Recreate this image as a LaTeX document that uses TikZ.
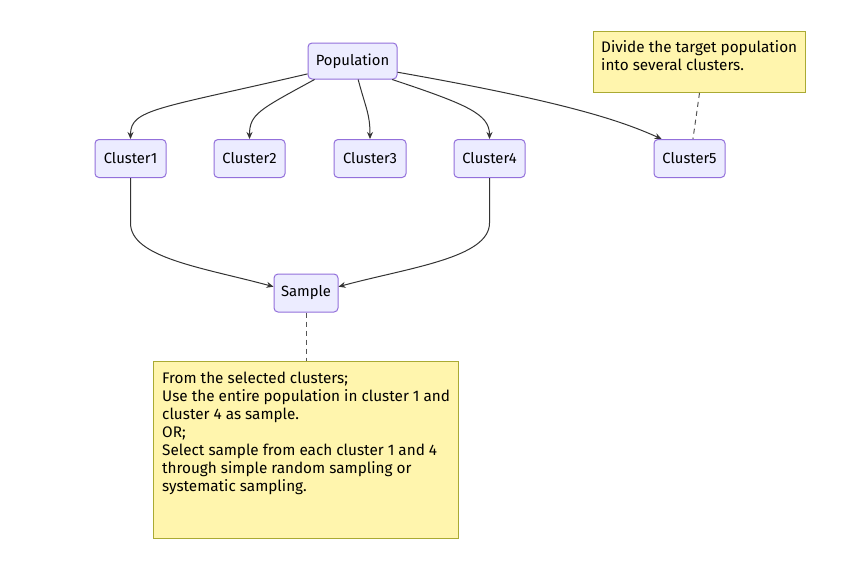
\documentclass[tikz,border=0pt]{standalone}
\usepackage{fontspec}
\setmainfont{Fira Sans}
\usetikzlibrary{arrows.meta}
\definecolor{nodefill}{HTML}{ECECFF}
\definecolor{nodeline}{HTML}{9370DB}
\definecolor{notefill}{HTML}{FFF5AD}
\definecolor{noteline}{HTML}{AAAA33}
\definecolor{edgecol}{HTML}{333333}
\definecolor{dashcol}{HTML}{555555}
\begin{document}
\begin{tikzpicture}[x=1pt,y=-1pt,
  box/.style={draw=nodeline,fill=nodefill,line width=1pt,rounded corners=4pt,
    minimum height=38pt,inner sep=0pt,font=\fontsize{14.8}{16}\selectfont,text=black},
  note/.style={draw=noteline,fill=notefill,line width=1pt,inner sep=0pt,anchor=north west},
  notetext/.style={font=\fontsize{15.3}{18}\selectfont,align=left,anchor=north west,inner sep=0pt},
  edge/.style={draw=edgecol,line width=1pt,-{Stealth[length=7pt,width=6pt]}},
  link/.style={draw=dashcol,line width=1pt,dash pattern=on 5pt off 4pt}]
\useasboundingbox[fill=white] (0,0) rectangle (856,570);
\node[box,minimum width=89pt,minimum height=36pt] (pop) at (352.5,61) {Population};
\node[box,minimum width=71pt] (c1) at (130.5,158.5) {Cluster1};
\node[box,minimum width=71pt] (c2) at (249.5,158.5) {Cluster2};
\node[box,minimum width=72pt] (c3) at (370,158.5) {Cluster3};
\node[box,minimum width=71pt] (c4) at (489.5,158.5) {Cluster4};
\node[box,minimum width=71pt] (c5) at (689.5,158.5) {Cluster5};
\node[box,minimum width=64pt] (smp) at (306,293) {Sample};
\node[note,minimum width=212pt,minimum height=61pt] (n1) at (593,31) {};
\node[notetext] (t1) at (601,40.5) {Divide the target population\\into several clusters.};
\node[note,minimum width=305pt,minimum height=177pt] (n2) at (153,361) {};
\node[notetext] (t2) at (162,371.5) {From the selected clusters;\\Use the entire population in cluster 1 and\\cluster 4 as sample.\\OR;\\Select sample from each cluster 1 and 4\\through simple random sampling or\\systematic sampling.};
% edges
\draw[edge] (pop.196) .. controls +(-150,35) and +(0,-30) .. (c1.north);
\draw[edge] (pop.206) .. controls +(-55,30) and +(0,-25) .. (c2.north);
\draw[edge] (pop.287) .. controls +(8,30) and +(0,-25) .. (c3.north);
\draw[edge] (pop.335) .. controls +(75,25) and +(0,-25) .. (c4.north);
\draw[edge] (pop.346) .. controls +(170,30) and +(-40,-18) .. (c5.145);
\draw[edge] (c1.south) -- ++(0,45) .. controls +(0,35) and +(-70,-19) .. (smp.169);
\draw[edge] (c4.south) -- ++(0,45) .. controls +(0,35) and +(70,-19) .. (smp.11);
\draw[link] (n1.south) -- (c5.80);
\draw[link] (smp.south) -- (n2.north -| smp.south);
\end{tikzpicture}
\end{document}
